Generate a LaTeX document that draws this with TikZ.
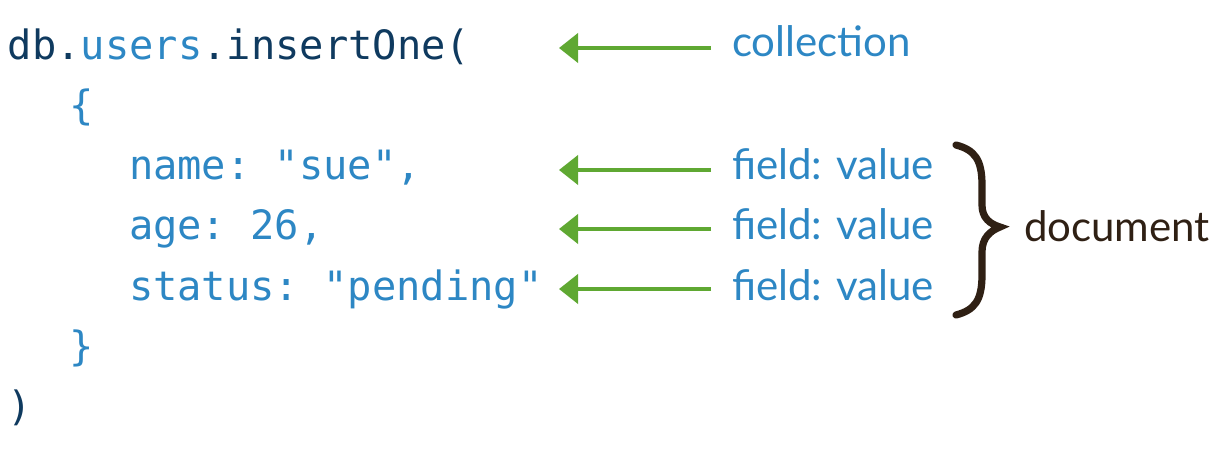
\documentclass[tikz,border=0pt]{standalone}
\usepackage{fontspec}
\setmonofont{DejaVu Sans Mono}
\setsansfont{Lato}
\definecolor{CodeNavy}{RGB}{15, 58, 95}
\definecolor{CodeBlue}{RGB}{45, 135, 196}
\definecolor{ArrowGreen}{RGB}{95, 168, 50}
\definecolor{BraceBrown}{RGB}{47, 32, 20}
\usetikzlibrary{arrows.meta, positioning}

\begin{document}
\begin{tikzpicture}[
    x=0.5pt, y=-0.5pt,
    every node/.style={inner sep=0pt, outer sep=0pt},
    codeline/.style={anchor=base west, text=CodeBlue,
                     font=\fontsize{20.2}{24}\selectfont\ttfamily},
    tag/.style={anchor=base west, text=CodeBlue,
                font=\fontsize{21}{24}\selectfont\sffamily},
    fieldarrow/.style={-{Triangle[length=9.5pt, width=14.5pt]}, ArrowGreen, line width=2pt}
]
\useasboundingbox (0,0) rectangle (1232,454);
\node[codeline] (c1) at (8,60) {\color{CodeNavy}db.\color{CodeBlue}users\color{CodeNavy}.insertOne(};
\node[codeline] (c2) at (69,120) {\{};
\node[codeline] (c3) at (129,180) {name: "sue",};
\node[codeline] (c4) at (129,240) {age: 26,};
\node[codeline] (c5) at (129,300) {status: "pending"};
\node[codeline] (c6) at (69,360) {\}};
\node[codeline, text=CodeNavy] (c7) at (8,420) {)};
\node[tag] (t1) at (732,57) {collection};
\node[tag] (t2) at (732,180) {field: value};
\node[tag] (t3) at (732,240) {field: value};
\node[tag] (t4) at (732,300) {field: value};
\node[tag, text=BraceBrown] (doc) at (1024,242) {document};
\coordinate (a1) at (559,48);
\coordinate (a2) at (559,170);
\coordinate (a3) at (559,229);
\coordinate (a4) at (559,289);
\draw[fieldarrow] ([xshift=-10.5pt]t1.west |- a1) -- (a1);
\draw[fieldarrow] ([xshift=-10.5pt]t2.west |- a2) -- (a2);
\draw[fieldarrow] ([xshift=-10.5pt]t3.west |- a3) -- (a3);
\draw[fieldarrow] ([xshift=-10.5pt]t4.west |- a4) -- (a4);
\draw[BraceBrown, line width=3.6pt, line cap=round]
    (956,145) .. controls (975,150) and (982,160) .. (982,185) -- (982,205)
    .. controls (982,218) and (990,224) .. (1000,227)
    .. controls (990,231) and (982,238) .. (982,252) -- (982,275)
    .. controls (982,300) and (975,310) .. (956,315);
\end{tikzpicture}
\end{document}
